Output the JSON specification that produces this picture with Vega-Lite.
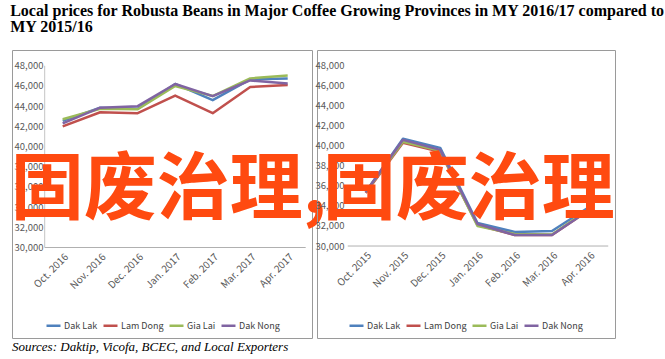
{
  "$schema": "https://vega.github.io/schema/vega-lite/v6.json",
  "background": "white",
  "padding": {"left": 10, "top": 2, "right": 0, "bottom": 0},
  "bounds": "flush",
  "spacing": 5,
  "title": {
    "text": ["Local prices for Robusta Beans in Major Coffee Growing Provinces in MY 2016/17 compared to", "MY 2015/16"],
    "anchor": "start",
    "frame": "bounds",
    "font": "Liberation Serif",
    "fontSize": 16,
    "fontWeight": "bold",
    "color": "#000000",
    "lineHeight": 16,
    "offset": 15
  },
  "config": {
    "view": {"stroke": "#9a9a9a", "strokeWidth": 1, "fill": null}
  },
  "resolve": {"legend": {"color": "independent"}, "scale": {"color": "independent", "x": "independent", "y": "independent"}},
  "datasets": {
    "y1617": [
      {"m": "Oct. 2016", "p": "Dak Lak", "v": 42550},
      {"m": "Nov. 2016", "p": "Dak Lak", "v": 43850},
      {"m": "Dec. 2016", "p": "Dak Lak", "v": 43750},
      {"m": "Jan. 2017", "p": "Dak Lak", "v": 46200},
      {"m": "Feb. 2017", "p": "Dak Lak", "v": 44600},
      {"m": "Mar. 2017", "p": "Dak Lak", "v": 46650},
      {"m": "Apr. 2017", "p": "Dak Lak", "v": 46750},
      {"m": "Oct. 2016", "p": "Lam Dong", "v": 42000},
      {"m": "Nov. 2016", "p": "Lam Dong", "v": 43400},
      {"m": "Dec. 2016", "p": "Lam Dong", "v": 43300},
      {"m": "Jan. 2017", "p": "Lam Dong", "v": 45050},
      {"m": "Feb. 2017", "p": "Lam Dong", "v": 43300},
      {"m": "Mar. 2017", "p": "Lam Dong", "v": 45900},
      {"m": "Apr. 2017", "p": "Lam Dong", "v": 46100},
      {"m": "Oct. 2016", "p": "Gia Lai", "v": 42700},
      {"m": "Nov. 2016", "p": "Gia Lai", "v": 43750},
      {"m": "Dec. 2016", "p": "Gia Lai", "v": 43700},
      {"m": "Jan. 2017", "p": "Gia Lai", "v": 46000},
      {"m": "Feb. 2017", "p": "Gia Lai", "v": 45000},
      {"m": "Mar. 2017", "p": "Gia Lai", "v": 46750},
      {"m": "Apr. 2017", "p": "Gia Lai", "v": 47050},
      {"m": "Oct. 2016", "p": "Dak Nong", "v": 42300},
      {"m": "Nov. 2016", "p": "Dak Nong", "v": 43850},
      {"m": "Dec. 2016", "p": "Dak Nong", "v": 44000},
      {"m": "Jan. 2017", "p": "Dak Nong", "v": 46200},
      {"m": "Feb. 2017", "p": "Dak Nong", "v": 45000},
      {"m": "Mar. 2017", "p": "Dak Nong", "v": 46550},
      {"m": "Apr. 2017", "p": "Dak Nong", "v": 46250}
    ],
    "y1516": [
      {"m": "Oct. 2015", "p": "Dak Lak", "v": 35400},
      {"m": "Nov. 2015", "p": "Dak Lak", "v": 40700},
      {"m": "Dec. 2015", "p": "Dak Lak", "v": 39800},
      {"m": "Jan. 2016", "p": "Dak Lak", "v": 32300},
      {"m": "Feb. 2016", "p": "Dak Lak", "v": 31400},
      {"m": "Mar. 2016", "p": "Dak Lak", "v": 31500},
      {"m": "Apr. 2016", "p": "Dak Lak", "v": 33900},
      {"m": "Oct. 2015", "p": "Lam Dong", "v": 35300},
      {"m": "Nov. 2015", "p": "Lam Dong", "v": 40300},
      {"m": "Dec. 2015", "p": "Lam Dong", "v": 39400},
      {"m": "Jan. 2016", "p": "Lam Dong", "v": 32100},
      {"m": "Feb. 2016", "p": "Lam Dong", "v": 31100},
      {"m": "Mar. 2016", "p": "Lam Dong", "v": 31100},
      {"m": "Apr. 2016", "p": "Lam Dong", "v": 33600},
      {"m": "Oct. 2015", "p": "Gia Lai", "v": 35400},
      {"m": "Nov. 2015", "p": "Gia Lai", "v": 40400},
      {"m": "Dec. 2015", "p": "Gia Lai", "v": 39500},
      {"m": "Jan. 2016", "p": "Gia Lai", "v": 32000},
      {"m": "Feb. 2016", "p": "Gia Lai", "v": 31200},
      {"m": "Mar. 2016", "p": "Gia Lai", "v": 31150},
      {"m": "Apr. 2016", "p": "Gia Lai", "v": 33700},
      {"m": "Oct. 2015", "p": "Dak Nong", "v": 35400},
      {"m": "Nov. 2015", "p": "Dak Nong", "v": 40600},
      {"m": "Dec. 2015", "p": "Dak Nong", "v": 39600},
      {"m": "Jan. 2016", "p": "Dak Nong", "v": 32200},
      {"m": "Feb. 2016", "p": "Dak Nong", "v": 31100},
      {"m": "Mar. 2016", "p": "Dak Nong", "v": 31100},
      {"m": "Apr. 2016", "p": "Dak Nong", "v": 33600}
    ]
  },
  "hconcat": [
    {
      "width": 300,
      "height": 288,
      "title": {
        "text": "Sources: Daktip, Vicofa, BCEC, and Local Exporters",
        "orient": "bottom",
        "anchor": "start",
        "frame": "group",
        "font": "Liberation Serif",
        "fontStyle": "italic",
        "fontWeight": "normal",
        "fontSize": 13,
        "color": "#000000",
        "offset": 3
      },
      "layer": [
        {
          "data": {"name": "y1617"},
          "mark": {"type": "line", "strokeWidth": 2.5, "strokeJoin": "round"},
          "encoding": {
            "x": {
              "field": "m", "type": "ordinal",
              "scale": {"type": "point", "domain": ["Oct. 2016", "Nov. 2016", "Dec. 2016", "Jan. 2017", "Feb. 2017", "Mar. 2017", "Apr. 2017"], "padding": 1.121, "align": 0.676},
              "axis": {"orient": "bottom", "offset": -90.5, "labelAngle": -45, "labelAlign": "right", "labelBaseline": "top", "labelOverlap": false, "ticks": false, "domain": false, "grid": false, "labelPadding": 4, "title": null, "labelFont": "Noto Sans CJK SC", "labelFontSize": 10, "labelColor": "#595959", "zindex": 0}
            },
            "y": {
              "field": "v", "type": "quantitative",
              "scale": {"domain": [21035, 49565], "nice": false, "zero": false},
              "axis": {"orient": "left", "offset": -33, "values": [30000, 32000, 34000, 36000, 38000, 40000, 42000, 44000, 46000, 48000], "format": ",.0f", "labelOverlap": false, "ticks": false, "domain": false, "grid": false, "labelPadding": 2, "title": null, "labelFont": "Noto Sans CJK SC", "labelFontSize": 9.5, "labelColor": "#595959", "zindex": 0}
            },
            "color": {
              "field": "p", "type": "nominal",
              "scale": {"domain": ["Dak Lak", "Lam Dong", "Gia Lai", "Dak Nong"], "range": ["#4F81BD", "#C0504D", "#9BBB59", "#8064A2"]},
              "legend": {"orient": "none", "legendX": 33, "legendY": 267, "padding": 0, "direction": "horizontal", "columns": 4, "title": null, "symbolType": "stroke", "symbolStrokeWidth": 2.5, "symbolSize": 196, "labelFont": "Noto Sans CJK SC", "labelFontSize": 9, "labelColor": "#404040", "labelOffset": 2, "columnPadding": 0}
            }
          }
        },
        {
          "data": {"values": [{}]},
          "mark": {"type": "rule", "color": "#b0b0b0", "strokeWidth": 1, "xOffset": -18, "x2Offset": 18},
          "encoding": {
            "x": {"datum": "Oct. 2016", "type": "ordinal",
              "scale": {"type": "point", "domain": ["Oct. 2016", "Nov. 2016", "Dec. 2016", "Jan. 2017", "Feb. 2017", "Mar. 2017", "Apr. 2017"], "padding": 1.121, "align": 0.676},
              "axis": {"orient": "bottom", "offset": -90.5, "labelAngle": -45, "labelAlign": "right", "labelBaseline": "top", "labelOverlap": false, "ticks": false, "domain": false, "grid": false, "labelPadding": 4, "title": null, "labelFont": "Noto Sans CJK SC", "labelFontSize": 10, "labelColor": "#595959", "zindex": 0}},
            "x2": {"datum": "Apr. 2017"},
            "y": {"datum": 30000, "type": "quantitative",
              "scale": {"domain": [21035, 49565], "nice": false, "zero": false},
              "axis": {"orient": "left", "offset": -33, "values": [30000, 32000, 34000, 36000, 38000, 40000, 42000, 44000, 46000, 48000], "format": ",.0f", "labelOverlap": false, "ticks": false, "domain": false, "grid": false, "labelPadding": 2, "title": null, "labelFont": "Noto Sans CJK SC", "labelFontSize": 9.5, "labelColor": "#595959", "zindex": 0}}
          }
        },
        {
          "data": {"values": [{}]},
          "mark": {"type": "rule", "color": "#c4c4c4", "strokeWidth": 1, "xOffset": -18},
          "encoding": {
            "x": {"datum": "Oct. 2016", "type": "ordinal",
              "scale": {"type": "point", "domain": ["Oct. 2016", "Nov. 2016", "Dec. 2016", "Jan. 2017", "Feb. 2017", "Mar. 2017", "Apr. 2017"], "padding": 1.121, "align": 0.676},
              "axis": {"orient": "bottom", "offset": -90.5, "labelAngle": -45, "labelAlign": "right", "labelBaseline": "top", "labelOverlap": false, "ticks": false, "domain": false, "grid": false, "labelPadding": 4, "title": null, "labelFont": "Noto Sans CJK SC", "labelFontSize": 10, "labelColor": "#595959", "zindex": 0}},
            "y": {"datum": 30000, "type": "quantitative",
              "scale": {"domain": [21035, 49565], "nice": false, "zero": false},
              "axis": {"orient": "left", "offset": -33, "values": [30000, 32000, 34000, 36000, 38000, 40000, 42000, 44000, 46000, 48000], "format": ",.0f", "labelOverlap": false, "ticks": false, "domain": false, "grid": false, "labelPadding": 2, "title": null, "labelFont": "Noto Sans CJK SC", "labelFontSize": 9.5, "labelColor": "#595959", "zindex": 0}},
            "y2": {"datum": 48000}
          }
        },
        {
          "data": {"values": [{}]},
          "mark": {"type": "text", "text": "固废治理,", "font": "Noto Sans CJK SC", "fontWeight": "bold", "fontSize": 73, "color": "#FF4A10", "align": "left", "baseline": "alphabetic", "xOffset": -52},
          "encoding": {
            "x": {"datum": "Oct. 2016", "type": "ordinal",
              "scale": {"type": "point", "domain": ["Oct. 2016", "Nov. 2016", "Dec. 2016", "Jan. 2017", "Feb. 2017", "Mar. 2017", "Apr. 2017"], "padding": 1.121, "align": 0.676},
              "axis": {"orient": "bottom", "offset": -90.5, "labelAngle": -45, "labelAlign": "right", "labelBaseline": "top", "labelOverlap": false, "ticks": false, "domain": false, "grid": false, "labelPadding": 4, "title": null, "labelFont": "Noto Sans CJK SC", "labelFontSize": 10, "labelColor": "#595959", "zindex": 0}},
            "y": {"datum": 33420, "type": "quantitative",
              "scale": {"domain": [21035, 49565], "nice": false, "zero": false},
              "axis": {"orient": "left", "offset": -33, "values": [30000, 32000, 34000, 36000, 38000, 40000, 42000, 44000, 46000, 48000], "format": ",.0f", "labelOverlap": false, "ticks": false, "domain": false, "grid": false, "labelPadding": 2, "title": null, "labelFont": "Noto Sans CJK SC", "labelFontSize": 9.5, "labelColor": "#595959", "zindex": 0}}
          }
        }
      ]
    },
    {
      "width": 298,
      "height": 288,
      "layer": [
        {
          "data": {"name": "y1516"},
          "mark": {"type": "line", "strokeWidth": 2.5, "strokeJoin": "round"},
          "encoding": {
            "x": {
              "field": "m", "type": "ordinal",
              "scale": {"type": "point", "domain": ["Oct. 2015", "Nov. 2015", "Dec. 2015", "Jan. 2016", "Feb. 2016", "Mar. 2016", "Apr. 2016"], "padding": 1.0636, "align": 0.654},
              "axis": {"orient": "bottom", "offset": -92, "labelAngle": -45, "labelAlign": "right", "labelBaseline": "top", "labelOverlap": false, "ticks": false, "domain": false, "grid": false, "labelPadding": 4, "title": null, "labelFont": "Noto Sans CJK SC", "labelFontSize": 10, "labelColor": "#595959", "zindex": 0}
            },
            "y": {
              "field": "v", "type": "quantitative",
              "scale": {"domain": [20820, 49567], "nice": false, "zero": false},
              "axis": {"orient": "left", "offset": -29, "values": [30000, 32000, 34000, 36000, 38000, 40000, 42000, 44000, 46000, 48000], "format": ",.0f", "labelOverlap": false, "ticks": false, "domain": false, "grid": false, "labelPadding": 2, "title": null, "labelFont": "Noto Sans CJK SC", "labelFontSize": 9.5, "labelColor": "#595959", "zindex": 0}
            },
            "color": {
              "field": "p", "type": "nominal",
              "scale": {"domain": ["Dak Lak", "Lam Dong", "Gia Lai", "Dak Nong"], "range": ["#4F81BD", "#C0504D", "#9BBB59", "#8064A2"]},
              "legend": {"orient": "none", "legendX": 31, "legendY": 267, "padding": 0, "direction": "horizontal", "columns": 4, "title": null, "symbolType": "stroke", "symbolStrokeWidth": 2.5, "symbolSize": 196, "labelFont": "Noto Sans CJK SC", "labelFontSize": 9, "labelColor": "#404040", "labelOffset": 2, "columnPadding": 0}
            }
          }
        },
        {
          "data": {"values": [{}]},
          "mark": {"type": "rule", "color": "#b0b0b0", "strokeWidth": 1, "xOffset": -18, "x2Offset": 19},
          "encoding": {
            "x": {"datum": "Oct. 2015", "type": "ordinal",
              "scale": {"type": "point", "domain": ["Oct. 2015", "Nov. 2015", "Dec. 2015", "Jan. 2016", "Feb. 2016", "Mar. 2016", "Apr. 2016"], "padding": 1.0636, "align": 0.654},
              "axis": {"orient": "bottom", "offset": -92, "labelAngle": -45, "labelAlign": "right", "labelBaseline": "top", "labelOverlap": false, "ticks": false, "domain": false, "grid": false, "labelPadding": 4, "title": null, "labelFont": "Noto Sans CJK SC", "labelFontSize": 10, "labelColor": "#595959", "zindex": 0}},
            "x2": {"datum": "Apr. 2016"},
            "y": {"datum": 30000, "type": "quantitative",
              "scale": {"domain": [20820, 49567], "nice": false, "zero": false},
              "axis": {"orient": "left", "offset": -29, "values": [30000, 32000, 34000, 36000, 38000, 40000, 42000, 44000, 46000, 48000], "format": ",.0f", "labelOverlap": false, "ticks": false, "domain": false, "grid": false, "labelPadding": 2, "title": null, "labelFont": "Noto Sans CJK SC", "labelFontSize": 9.5, "labelColor": "#595959", "zindex": 0}}
          }
        },
        {
          "data": {"values": [{}]},
          "mark": {"type": "text", "text": "固废治理", "font": "Noto Sans CJK SC", "fontWeight": "bold", "fontSize": 73, "color": "#FF4A10", "align": "left", "baseline": "alphabetic", "xOffset": -43},
          "encoding": {
            "x": {"datum": "Oct. 2015", "type": "ordinal",
              "scale": {"type": "point", "domain": ["Oct. 2015", "Nov. 2015", "Dec. 2015", "Jan. 2016", "Feb. 2016", "Mar. 2016", "Apr. 2016"], "padding": 1.0636, "align": 0.654},
              "axis": {"orient": "bottom", "offset": -92, "labelAngle": -45, "labelAlign": "right", "labelBaseline": "top", "labelOverlap": false, "ticks": false, "domain": false, "grid": false, "labelPadding": 4, "title": null, "labelFont": "Noto Sans CJK SC", "labelFontSize": 10, "labelColor": "#595959", "zindex": 0}},
            "y": {"datum": 33300, "type": "quantitative",
              "scale": {"domain": [20820, 49567], "nice": false, "zero": false},
              "axis": {"orient": "left", "offset": -29, "values": [30000, 32000, 34000, 36000, 38000, 40000, 42000, 44000, 46000, 48000], "format": ",.0f", "labelOverlap": false, "ticks": false, "domain": false, "grid": false, "labelPadding": 2, "title": null, "labelFont": "Noto Sans CJK SC", "labelFontSize": 9.5, "labelColor": "#595959", "zindex": 0}}
          }
        }
      ]
    }
  ]
}
